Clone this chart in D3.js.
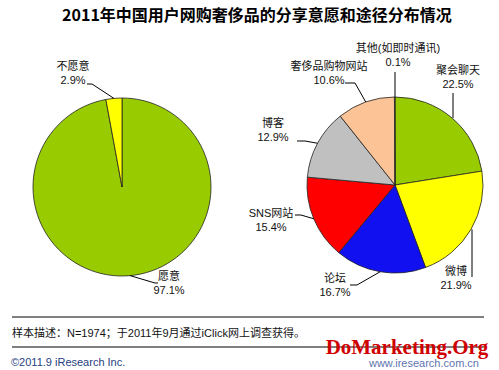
<!DOCTYPE html>
<html>
<head>
<meta charset="utf-8">
<script src="https://cdn.jsdelivr.net/npm/d3@7"></script>
<style>
  body { margin: 0; background: #fff; }
  svg { display: block; font-family: "Liberation Sans", "Noto Sans CJK SC", sans-serif; }
  .lbl { font-size: 11px; fill: #111; }
  .leader { fill: none; stroke: #000; stroke-width: 1; }
  .slice { stroke: #222; stroke-width: 0.8; }
</style>
</head>
<body>
<svg id="chart" width="499" height="370"></svg>
<script>
// willingness to share (left pie)
var willNames = ["愿意", "不愿意"];
var willValues = [97.1, 2.9];

// sharing channels (right pie)
var channelNames = ["聚会聊天", "微博", "论坛", "SNS网站", "博客", "奢侈品购物网站", "其他(如即时通讯)"];
var channelValues = [22.5, 21.9, 16.7, 15.4, 12.9, 10.6, 0.1];

var colors = {
  "愿意": "#99cc00", "不愿意": "#ffff00",
  "聚会聊天": "#99cc00", "微博": "#ffff00", "论坛": "#1010f0", "SNS网站": "#ff0000",
  "博客": "#c0c0c0", "奢侈品购物网站": "#fcc396", "其他(如即时通讯)": "#ffffff"
};

// label layout: elbow (e), end of stub (s), text centre (t) — relative to pie centre
var leftLayout = {
  "愿意":   { e: [33, 96],  s: [36, 96],   t: [47, 93] },
  "不愿意": { e: [-30, -103], s: [-35, -103], t: [-49, -117] }
};
var rightLayout = {
  "聚会聊天":       { e: null, s: [58, -92],  t: [63, -111] },
  "微博":           { e: null, s: [77, 92],   t: [61, 90] },
  "论坛":           { e: [-38, 100], s: [-45, 100], t: [-60, 97] },
  "SNS网站":        { e: [-94, 30],  s: [-100, 30], t: [-124, 32] },
  "博客":           { e: [-90, -44], s: [-98, -44], t: [-122, -58] },
  "奢侈品购物网站": { e: [-40, -102], s: [-50, -102], t: [-66, -115] },
  "其他(如即时通讯)": { e: null, s: [0, -113], t: [3, -133] }
};

var svg = d3.select("#chart");

svg.append("text")
  .attr("x", 257).attr("y", 21)
  .attr("text-anchor", "middle")
  .style("font-size", "16px").style("font-weight", "bold")
  .style("font-family", "'Noto Sans CJK SC', sans-serif")
  .text("2011年中国用户网购奢侈品的分享意愿和途径分布情况");

function drawPie(cx, cy, r, names, values, layout) {
  var data = names.map(function(n, i) { return { name: n, value: values[i] }; });
  var pie = d3.pie().sort(null).value(function(d) { return d.value; });
  var arc = d3.arc().innerRadius(0).outerRadius(r);
  var g = svg.append("g").attr("transform", "translate(" + cx + "," + cy + ")");
  var arcs = pie(data);

  g.selectAll("path.slice").data(arcs).enter().append("path")
    .attr("class", "slice")
    .attr("d", arc)
    .attr("fill", function(d) { return colors[d.data.name]; });

  arcs.forEach(function(d) {
    var L = layout[d.data.name];
    var mid = (d.startAngle + d.endAngle) / 2;
    var p0 = [Math.sin(mid) * r, -Math.cos(mid) * r];
    var pts = [p0];
    if (L.e) pts.push(L.e); else pts[0] = [L.s[0], p0[1]];
    pts.push(L.s);
    g.append("path").attr("class", "leader").attr("d", d3.line()(pts));

    var t = g.append("text").attr("class", "lbl")
      .attr("x", L.t[0]).attr("y", L.t[1])
      .attr("text-anchor", "middle");
    t.append("tspan").attr("x", L.t[0]).attr("dy", 0).text(d.data.name);
    t.append("tspan").attr("x", L.t[0]).attr("dy", 14).text(d.data.value.toFixed(1) + "%");
  });
}

drawPie(122, 187, 89, willNames, willValues, leftLayout);
drawPie(395, 185, 88, channelNames, channelValues, rightLayout);

// footer
svg.append("line").attr("x1", 12).attr("x2", 484).attr("y1", 317).attr("y2", 317)
  .attr("stroke", "#000").attr("stroke-width", 1);
svg.append("text").attr("x", 12).attr("y", 337).attr("class", "lbl")
  .text("样本描述：N=1974；于2011年9月通过iClick网上调查获得。");
svg.append("line").attr("x1", 12).attr("x2", 484).attr("y1", 347).attr("y2", 347)
  .attr("stroke", "#000").attr("stroke-width", 1);
svg.append("text").attr("x", 11).attr("y", 366)
  .style("font-size", "11px").attr("fill", "#27407f")
  .text("©2011.9 iResearch Inc.");
svg.append("text").attr("x", 479).attr("y", 367).attr("text-anchor", "end")
  .style("font-size", "11px").attr("fill", "#6075b0")
  .text("www.iresearch.com.cn");
svg.append("text").attr("x", 407).attr("y", 354).attr("text-anchor", "middle")
  .style("font-size", "21px").style("font-weight", "bold")
  .style("font-family", "'Liberation Serif', serif")
  .attr("fill", "#d10000")
  .text("DoMarketing.Org");
</script>
</body>
</html>
